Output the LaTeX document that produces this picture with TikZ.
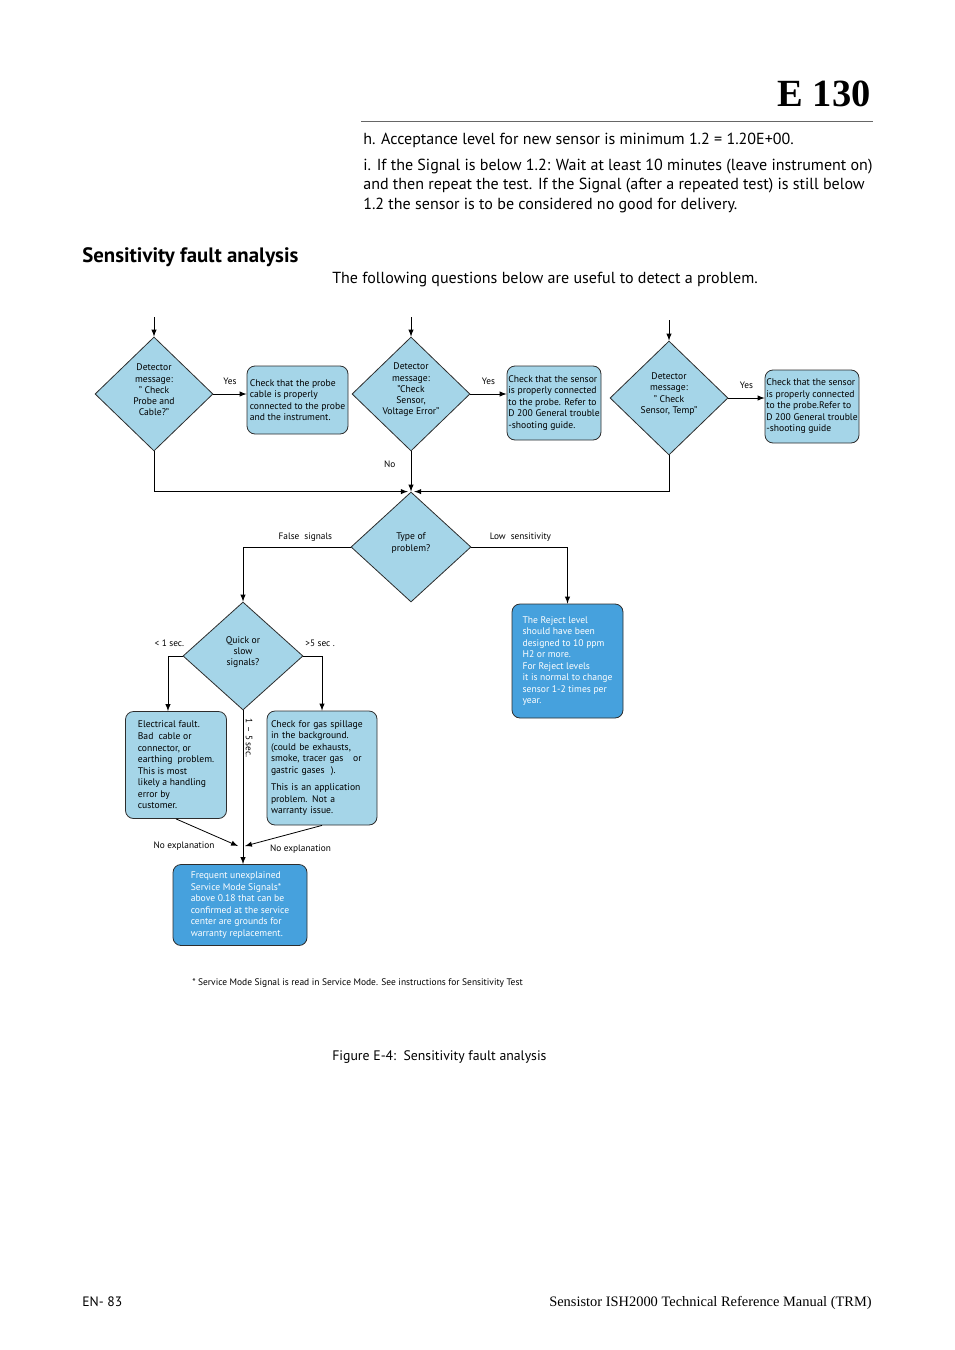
\documentclass[tikz,border=0pt]{standalone}
\usepackage{fontspec}
\setmainfont{PT Sans}
\newfontfamily\timesfont{Liberation Serif}
\usetikzlibrary{arrows,shapes,positioning,shapes.geometric}

\newcommand{\pxu}{0.6237pt}
\definecolor{paleblue}{RGB}{165,213,232}
\definecolor{deepblue}{RGB}{70,161,221}
\definecolor{edgegray}{RGB}{45,45,45}

\begin{document}
\begin{tikzpicture}[x=\pxu,y=-\pxu,>=latex]
\tikzset{
  decision/.style={diamond, draw=edgegray, fill=paleblue, line width=0.5pt, inner sep=0pt,
    minimum width=118*\pxu, minimum height=114*\pxu},
  dtext/.style={align=center, inner sep=0pt, yshift=2.5pt, font=\fontsize{6}{7}\selectfont},
  checkbox/.style={rectangle, rounded corners=5pt, draw=edgegray, fill=paleblue, line width=0.5pt,
    align=left, inner sep=0pt, font=\fontsize{6}{7.2}\selectfont},
  resultbox/.style={checkbox, fill=deepblue, text=white},
  flow/.style={draw=black, line width=0.5pt},
  lbl/.style={font=\fontsize{5.8}{6.5}\selectfont, inner sep=1.5pt},
  bodytext/.style={anchor=base west, inner sep=0pt, font=\fontsize{10}{12}\selectfont},
}
\useasboundingbox (0,0) rectangle (954,1350);

% page head
\node[anchor=base east, inner sep=0pt, font=\timesfont\bfseries\fontsize{24}{29}\selectfont] (pagetitle) at (871,107) {E 130};
\draw[black!60, line width=0.5pt] (361,121) -- (873,121);
\node[bodytext] (stepH) at (363,145) {h. Acceptance level for new sensor is minimum 1.2 = 1.20E+00.};
\node[bodytext] (stepI) at (363,171) {i. If the Signal is below 1.2: Wait at least 10 minutes (leave instrument on)};
\node[bodytext] (stepIb) at (363,190) {and then repeat the test. If the Signal (after a repeated test) is still below};
\node[bodytext] (stepIc) at (363,210) {1.2 the sensor is to be considered no good for delivery.};
\node[anchor=base west, inner sep=0pt, font=\bfseries\fontsize{13}{15}\selectfont] (heading) at (82,263) {Sensitivity fault analysis};
\node[bodytext] (intro) at (332,283) {The following questions below are useful to detect a problem.};

% detector messages
\node[decision, label={[dtext]center:{Detector\\message:\\” Check\\Probe and\\Cable?”}}] (probeq) at (154,394) {};
\node[decision, label={[dtext]center:{Detector\\message:\\”Check\\Sensor,\\Voltage Error”}}] (voltq) at (411,394) {};
\node[decision, label={[dtext]center:{Detector\\message:\\” Check\\Sensor, Temp”}}] (tempq) at (669,398) {};

\node[checkbox, minimum width=101*\pxu, minimum height=68*\pxu] (probefix) at (297.5,400)
  {Check that the probe\\cable is properly\\connected to the probe\\and the instrument.};
\node[checkbox, minimum width=94*\pxu, minimum height=74*\pxu] (voltfix) at (554,403)
  {Check that the sensor\\is properly connected\\to the probe. Refer to\\D 200 General trouble\\-shooting guide.};
\node[checkbox, minimum width=94*\pxu, minimum height=73*\pxu] (tempfix) at (812,406.5)
  {Check that the sensor\\is properly connected\\to the probe.Refer to\\D 200 General trouble\\-shooting guide};

\coordinate (probein) at (154,317);
\coordinate (voltin) at (411,317);
\coordinate (tempin) at (669,320);
\draw[flow,->] (probein) -- (probeq.north);
\draw[flow,->] (voltin) -- (voltq.north);
\draw[flow,->] (tempin) -- (tempq.north);
\draw[flow,->] (probeq.east) -- node[lbl,above=4pt]{Yes} (probeq.east -| probefix.west);
\draw[flow,->] (voltq.east) -- node[lbl,above=4pt]{Yes} (voltq.east -| voltfix.west);
\draw[flow,->] (tempq.east) -- node[lbl,above=4pt]{Yes} (tempq.east -| tempfix.west);

% type of problem
\node[decision, minimum width=120*\pxu, minimum height=110*\pxu,
  label={[dtext]center:{Type of\\problem?}}] (typeq) at (411,547) {};
\draw[flow,->,shorten >=2pt] (probeq.south) |- (typeq.north);
\draw[flow,->,shorten >=2pt] (tempq.south) |- (typeq.north);
\draw[flow,->] (voltq.south) -- node[lbl,left=8pt,pos=0.33]{No} (typeq.north);

\node[resultbox, minimum width=111*\pxu, minimum height=114*\pxu] (rejectbox) at (567.5,661)
  {The Reject level\\should have been\\designed to 10 ppm\\H2 or more.\\For Reject levels\\it is normal to change\\sensor 1-2 times per\\year.};
\node[decision, minimum width=120*\pxu, minimum height=108*\pxu,
  label={[dtext]center:{Quick or\\slow\\signals?}}] (quickq) at (243,656) {};
\draw[flow,->] (typeq.west) -| node[lbl,above=2pt,pos=0.21]{False\ \ signals} (quickq.north);
\draw[flow,->] (typeq.east) -| node[lbl,above=2pt,pos=0.255]{Low\ \ sensitivity} (rejectbox.north);

% quick or slow
\node[checkbox, minimum width=101*\pxu, minimum height=107*\pxu] (faultbox) at (176,765)
  {Electrical fault.\\Bad\ \ cable or\\connector, or\\earthing\ \ problem.\\This is most\\likely a handling\\error by\\customer.};
\node[checkbox, minimum width=110*\pxu, minimum height=114*\pxu, text width=102*\pxu, inner xsep=4*\pxu] (spillbox) at (322,768)
  {Check for gas spillage\\in the background.\\(could be exhausts,\\smoke, tracer gas\quad or\\gastric gases\ \ ).\\[3.5pt]This is an application\\problem. Not a\\warranty issue.};
\node[resultbox, minimum width=134*\pxu, minimum height=81*\pxu] (finalbox) at (240,905)
  {Frequent unexplained\\Service Mode Signals*\\above 0.18 that can be\\confirmed at the service\\center are grounds for\\warranty replacement.};

\draw[flow,->] (quickq.west) -| node[lbl,above=4pt,pos=0.45]{< 1 sec.} ([xshift=-5pt]faultbox.north);
\draw[flow,->] (quickq.east) -| node[lbl,above=4pt,pos=0.45]{>5 sec .} (spillbox.north);
\draw[flow,->] (quickq.south) -- node[lbl,pos=0.18,anchor=south,rotate=-90]{1 -- 5 sec.} (quickq.south |- finalbox.north);
\coordinate (joinL) at (238,846);
\coordinate (joinR) at (245,846);
\draw[flow,->] (faultbox.south) -- (joinL);
\draw[flow,->] (spillbox.south) -- (joinR);
\node[lbl, left=13pt of joinL] (noexpL) {No explanation};
\node[lbl, right=14pt of joinR, yshift=-2pt] (noexpR) {No explanation};

% foot notes
\node[anchor=base west, inner sep=0pt, font=\fontsize{5.9}{7}\selectfont] (footnote) at (192,985)
  {* Service Mode Signal is read in Service Mode. See instructions for Sensitivity Test};
\node[anchor=base west, inner sep=0pt, font=\fontsize{8.6}{10}\selectfont] (caption) at (332,1060)
  {Figure E-4:\ \ Sensitivity fault analysis};
\node[anchor=base west, inner sep=0pt, font=\fontsize{8.5}{10}\selectfont] (pagenum) at (82,1306) {EN- 83};
\node[anchor=base east, inner sep=0pt, font=\timesfont\fontsize{9}{11}\selectfont] (manual) at (872,1306)
  {Sensistor ISH2000 Technical Reference Manual (TRM)};
\end{tikzpicture}
\end{document}
